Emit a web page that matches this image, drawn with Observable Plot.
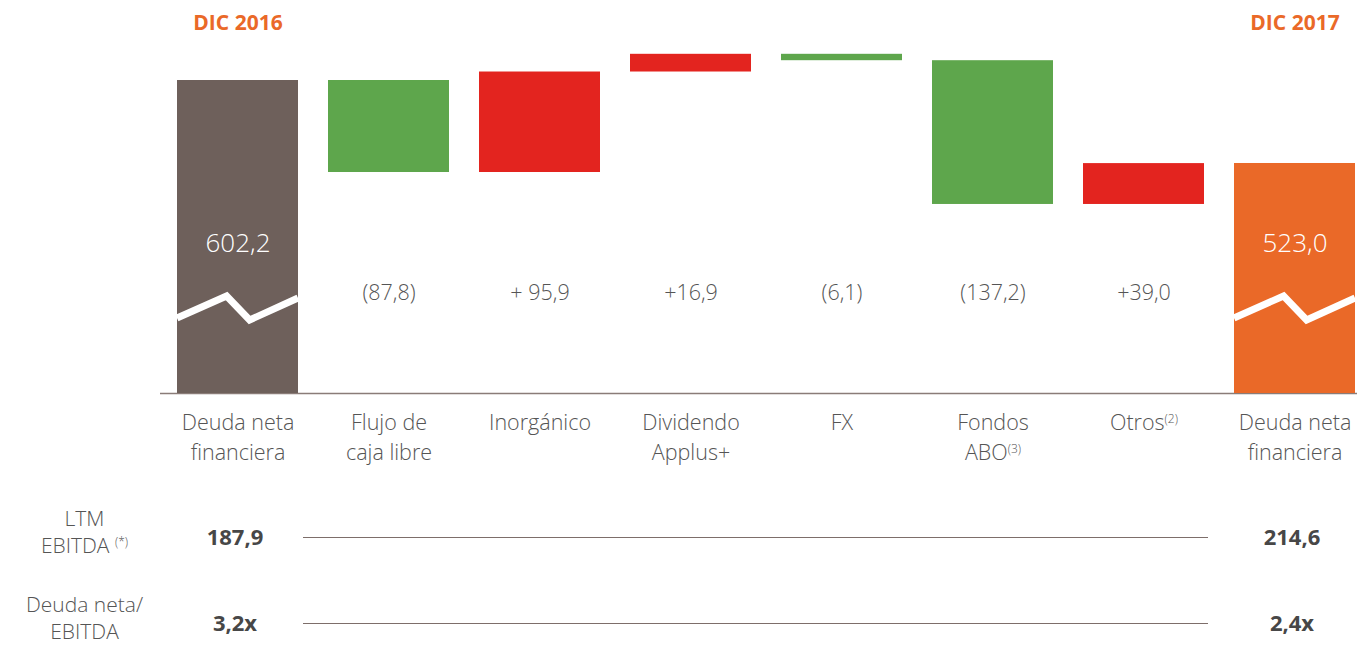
<!DOCTYPE html>
<html>
<head>
<meta charset="utf-8">
<script src="https://cdn.jsdelivr.net/npm/d3@7"></script>
<script src="https://cdn.jsdelivr.net/npm/@observablehq/plot@0.6"></script>
<style>
  html, body { margin: 0; padding: 0; background: #fff; }
  #chart { width: 1359px; }
  #chart svg { display: block; font-family: "Open Sans", sans-serif; }
</style>
</head>
<body>
<div id="chart"></div>
<script>
// ---- data ----
const categoryKeys = ["inicio", "flujo", "inorg", "divid", "fx", "abo", "otros", "fin"];
const tickLabels = ["Deuda neta\nfinanciera", "Flujo de\ncaja libre", "Inorgánico", "Dividendo\nApplus+", "FX", "Fondos\nABO(3)", "Otros(2)", "Deuda neta\nfinanciera"];
const startValue = 602.2;
const endValue = 523.0;
const deltas = [-87.8, 95.9, 16.9, -6.1, -137.2, 39.0];
const deltaLabels = ["(87,8)", "+ 95,9", "+16,9", "(6,1)", "(137,2)", "+39,0"];
const totalLabels = ["602,2", "523,0"];
const periodHeaders = ["DIC 2016", "DIC 2017"];
const rowKeys = ["ltm", "ratio"];
const rowLabels = ["LTM\nEBITDA (*)", "Deuda neta/\nEBITDA"];
const ltmEbitda = ["187,9", "214,6"];
const debtRatio = ["3,2x", "2,4x"];

// ---- layout constants ----
const axisFloor = 303.5;           // broken axis floor value
const xRange = [175, 1357];
const breakShape = [[0, -75], [0.41, -97], [0.60, -73], [1, -95]]; // zigzag decoration (fraction of band, px above base)

// ---- derived table ----
const bars = [];
bars.push({key: categoryKeys[0], y1: axisFloor, y2: startValue, type: "total0"});
let cur = startValue;
deltas.forEach((d, i) => {
  bars.push({key: categoryKeys[i + 1], y1: cur, y2: cur + d, type: d < 0 ? "baja" : "alza", label: deltaLabels[i]});
  cur += d;
});
bars.push({key: categoryKeys[7], y1: axisFloor, y2: endValue, type: "total1"});
const totals = [{key: categoryKeys[0], label: totalLabels[0]}, {key: categoryKeys[7], label: totalLabels[1]}];
const headers = [{key: categoryKeys[0], label: periodHeaders[0]}, {key: categoryKeys[7], label: periodHeaders[1]}];
const deltaRows = bars.filter(b => b.label);
const ticks = categoryKeys.map((k, i) => ({key: k, label: tickLabels[i]}));

const xScale = () => ({type: "band", domain: categoryKeys, range: xRange, paddingInner: 0.2, paddingOuter: 0, axis: null});

function zigzag(index, scales, values, dimensions) {
  const xs = scales.x;
  const bw = typeof xs.bandwidth === "function" ? xs.bandwidth() : scales.scales.x.bandwidth;
  const base = scales.y(axisFloor);
  const g = d3.create("svg:g");
  for (const k of [categoryKeys[0], categoryKeys[7]]) {
    const x0 = xs(k);
    const pts = breakShape.map(([fx, dy]) => [x0 + fx * bw, base + dy]);
    g.append("path")
      .attr("d", d3.line()(pts))
      .attr("fill", "none")
      .attr("stroke", "#fff")
      .attr("stroke-width", 7)
      .attr("stroke-linejoin", "miter");
  }
  return g.node();
}

const main = Plot.plot({
  width: 1359,
  height: 480,
  marginLeft: 160,
  marginRight: 2,
  marginTop: 0,
  marginBottom: 87,
  style: {fontFamily: "'Open Sans', sans-serif"},
  x: xScale(),
  y: {domain: [axisFloor, startValue], range: [393, 80], axis: null},
  color: {domain: ["total0", "baja", "alza", "total1"], range: ["#6E605B", "#5EA64C", "#E3241F", "#EA6928"]},
  marks: [
    Plot.ruleY([axisFloor], {stroke: "#8a7c78", strokeWidth: 1.6}),
    Plot.barY(bars, {x: "key", y1: "y1", y2: "y2", fill: "type"}),
    zigzag,
    Plot.text(totals, {x: "key", text: "label", frameAnchor: "bottom", lineAnchor: "middle", dy: -150, fill: "#fff", fontSize: 26, fontWeight: 300}),
    Plot.text(deltaRows, {x: "key", text: "label", frameAnchor: "bottom", lineAnchor: "middle", dy: -100, fill: "#555", fontSize: 21.5, fontWeight: 300}),
    Plot.text(ticks, {x: "key", text: "label", frameAnchor: "bottom", lineAnchor: "top", dy: 16, lineHeight: 1.36, fill: "#555", fontSize: 21.5, fontWeight: 300}),
    Plot.text(headers, {x: "key", text: "label", frameAnchor: "top", lineAnchor: "middle", dy: 23, fill: "#EA6928", fontSize: 21, fontWeight: 700})
  ]
});

const tableValues = [
  {key: categoryKeys[0], row: rowKeys[0], label: ltmEbitda[0]},
  {key: categoryKeys[7], row: rowKeys[0], label: ltmEbitda[1]},
  {key: categoryKeys[0], row: rowKeys[1], label: debtRatio[0]},
  {key: categoryKeys[7], row: rowKeys[1], label: debtRatio[1]}
];
const rowHeads = rowKeys.map((k, i) => ({row: k, label: rowLabels[i]}));

const table = Plot.plot({
  width: 1359,
  height: 166,
  marginLeft: 175,
  marginRight: 2,
  marginTop: 0,
  marginBottom: 0,
  style: {fontFamily: "'Open Sans', sans-serif"},
  x: xScale(),
  y: {type: "point", domain: rowKeys, range: [57, 143], padding: 0, axis: null},
  marks: [
    Plot.ruleY(rowKeys, {y: d => d, insetLeft: 128, insetRight: 149, stroke: "#7d6e6a", strokeWidth: 1}),
    Plot.text(tableValues, {x: "key", y: "row", text: "label", dx: -3, fill: "#474747", fontSize: 22, fontWeight: 700}),
    Plot.text(rowHeads, {y: "row", text: "label", frameAnchor: "left", textAnchor: "middle", dx: -91, dy: -7, lineHeight: 1.28, fill: "#555", fontSize: 21, fontWeight: 300})
  ]
});

// superscripts for footnote markers
function addSuperscripts(svg) {
  const nodes = svg.querySelectorAll("text, tspan");
  nodes.forEach(n => {
    if (n.children.length) return;
    const m = /^(.*?)(\((?:\d|\*)\))$/.exec(n.textContent);
    if (!m) return;
    n.textContent = m[1];
    const s = document.createElementNS("http://www.w3.org/2000/svg", "tspan");
    s.setAttribute("font-size", "12");
    s.setAttribute("baseline-shift", "7");
    s.textContent = m[2];
    n.appendChild(s);
  });
}
addSuperscripts(main);
addSuperscripts(table);

document.getElementById("chart").append(main, table);
</script>
</body>
</html>
